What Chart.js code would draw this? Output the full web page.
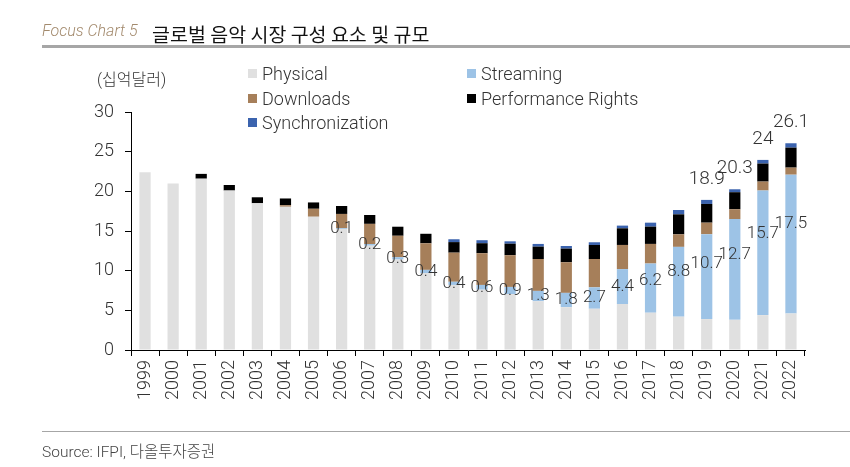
<!DOCTYPE html>
<html><head><meta charset="utf-8">
<script src="https://cdn.jsdelivr.net/npm/chart.js@4.4.1/dist/chart.umd.min.js"></script>
<style>
html,body{margin:0;padding:0;background:#fff;width:850px;height:467px;overflow:hidden;}
#wrap{position:relative;width:850px;height:467px;}
canvas{position:absolute;left:0;top:0;}
.t{position:absolute;white-space:nowrap;line-height:1;}
.lg{position:absolute;white-space:nowrap;font:300 18px Roboto,'Noto Sans CJK KR',sans-serif;color:#333;line-height:1;}
.lg i{position:absolute;left:-14px;top:4px;width:9px;height:9px;}
</style></head><body>
<div id="wrap">
<canvas id="c" width="850" height="467"></canvas>
<div class="t" style="left:42px;top:21px;font:italic 300 16px Roboto,sans-serif;color:#a38a6d;">Focus Chart 5</div>
<div class="t" style="left:152px;top:19px;font:19.5px 'Noto Sans CJK KR',sans-serif;color:#111;">글로벌 음악 시장 구성 요소 및 규모</div>
<div style="position:absolute;left:42px;top:45px;width:808px;height:3px;background:#a6a6a6"></div>
<div class="t" style="left:97px;top:66px;font:300 16px Roboto,'Noto Sans CJK KR',sans-serif;color:#333;">(십억달러)</div>
<div id="legend"></div>
<div style="position:absolute;left:42px;top:431px;width:808px;height:1px;background:#a6a6a6"></div>
<div class="t" style="left:42px;top:439px;font:300 15.5px Roboto,'Noto Sans CJK KR',sans-serif;color:#444;">Source: IFPI, 다올투자증권</div>
</div>
<script>
const years = ['1999','2000','2001','2002','2003','2004','2005','2006','2007','2008','2009','2010','2011','2012','2013','2014','2015','2016','2017','2018','2019','2020','2021','2022'];
const seriesNames = ['Physical','Streaming','Downloads','Performance Rights','Synchronization'];
const physical    = [22.4,21.0,21.6,20.1,18.5,18.05,16.8,15.25,13.15,11.4,9.7,8.2,7.6,7.05,6.15,5.4,5.2,5.8,4.7,4.2,3.9,3.8,4.4,4.6];
const streaming   = [0,0,0,0,0,0,0,0.1,0.2,0.3,0.4,0.4,0.6,0.9,1.3,1.8,2.7,4.4,6.2,8.8,10.7,12.7,15.7,17.5];
const downloads   = [0,0,0,0,0,0.2,1.0,1.8,2.55,2.7,3.35,3.67,4.0,4.0,4.02,3.86,3.57,3.04,2.47,1.58,1.45,1.24,1.13,0.89];
const performance = [0,0,0.6,0.7,0.75,0.85,0.8,1.0,1.12,1.14,1.2,1.33,1.26,1.45,1.56,1.72,1.77,2.1,2.18,2.52,2.36,2.15,2.27,2.52];
const sync        = [0,0,0,0,0,0,0,0,0,0,0,0.36,0.38,0.3,0.34,0.33,0.34,0.34,0.5,0.55,0.51,0.37,0.46,0.55];
const totalLabels = ['','','','','','','','','','','','','','','','','','','','','18.9','20.3','24','26.1'];
const yTicks = [0,5,10,15,20,25,30];
const colors = ['#e0e0e0','#9dc3e6','#a67f5a','#000000','#3b63ae'];

const textColor = '#333';
const fontFam = "Roboto,'Noto Sans CJK KR',sans-serif";

// legend
const legendPos = [[262,65],[481,65],[262,90],[481,90],[262,114]];
const lg = document.getElementById('legend');
seriesNames.forEach((n,i)=>{
  const d = document.createElement('div');
  d.className='lg';
  d.style.left = legendPos[i][0]+'px';
  d.style.top = legendPos[i][1]+'px';
  d.innerHTML = '<i style="background:'+colors[i]+'"></i>'+n;
  lg.appendChild(d);
});

const labelPlugin = {
  id:'labels',
  afterDatasetsDraw(chart){
    const ctx = chart.ctx;
    ctx.save();
    ctx.fillStyle = textColor;
    ctx.textAlign = 'center';
    ctx.textBaseline = 'middle';
    ctx.font = "300 17px " + fontFam;
    chart.getDatasetMeta(1).data.forEach((bar,i)=>{
      const v = streaming[i];
      if(!v) return;
      const f = v >= 6 ? 0.65 : 0.5;
      const y = bar.base - (bar.base - bar.y) * f;
      ctx.fillText(String(v), bar.x, y);
    });
    ctx.font = "300 19px " + fontFam;
    chart.getDatasetMeta(4).data.forEach((bar,i)=>{
      if(!totalLabels[i]) return;
      ctx.fillText(totalLabels[i], bar.x, bar.y - 21);
    });
    ctx.restore();
  }
};

const dataArrays = [physical, streaming, downloads, performance, sync];
new Chart(document.getElementById('c'), {
  type:'bar',
  data:{
    labels: years,
    datasets: dataArrays.map((arr,i)=>({
      label: seriesNames[i], data: arr, backgroundColor: colors[i],
      borderWidth:0, barPercentage:0.4, categoryPercentage:1.0, stack:'s'
    }))
  },
  options:{
    responsive:false, animation:false,
    layout:{padding:{left:80,right:45,top:112,bottom:0}},
    plugins:{legend:{display:false}, tooltip:{enabled:false}},
    scales:{
      x:{
        stacked:true,
        border:{display:true,color:'#000',width:1},
        grid:{display:true,drawOnChartArea:false,drawTicks:true,tickLength:6,color:'#000',offset:true},
        ticks:{color:textColor,font:{family:fontFam,size:18,weight:300},minRotation:90,maxRotation:90,padding:4,autoSkip:false},
        afterFit(s){ s.height = 117; s.paddingLeft=0; s.paddingRight=0; }
      },
      y:{
        stacked:true, min:0, max:30,
        afterBuildTicks(s){ s.ticks = yTicks.map(v=>({value:v})); },
        border:{display:true,color:'#000',width:1},
        grid:{display:true,drawOnChartArea:false,drawTicks:true,tickLength:6,color:'#000'},
        ticks:{color:textColor,font:{family:fontFam,size:18,weight:300},padding:11},
        afterFit(s){ s.width = 51; s.paddingTop=0; s.paddingBottom=0; }
      }
    }
  },
  plugins:[labelPlugin]
});
</script>
</body></html>
